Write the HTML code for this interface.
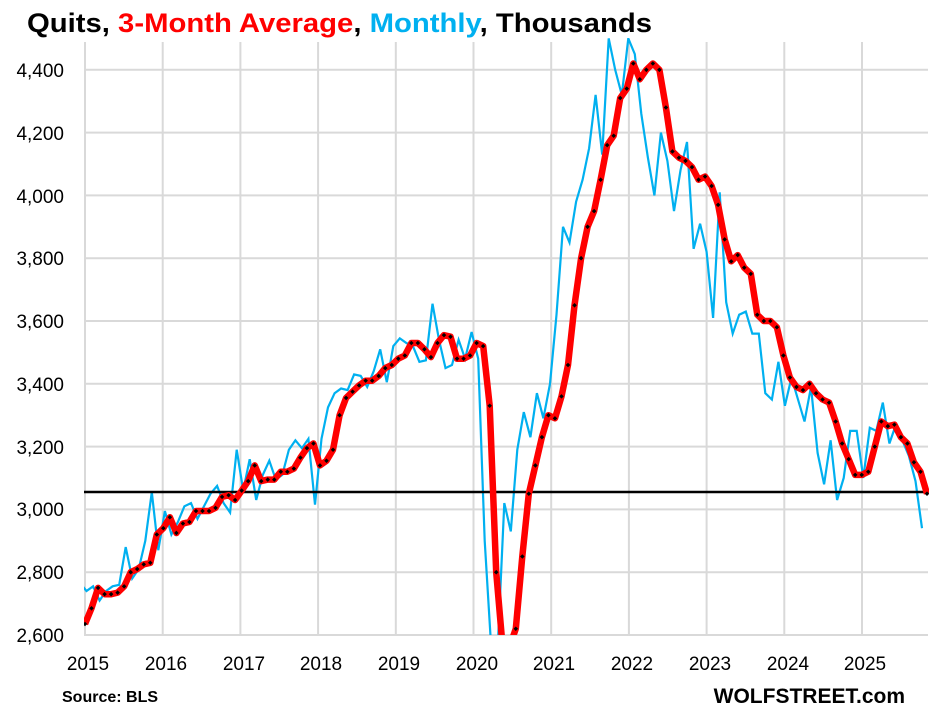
<!DOCTYPE html>
<html style="overflow:hidden;height:714px"><head><meta charset="utf-8"><style>
body{margin:0;background:#fff;width:933px;height:714px;overflow:hidden;font-family:"Liberation Sans",sans-serif}
svg{position:absolute;left:0;top:0;display:block}
</style></head><body>
<svg id="s" width="933" height="714" viewBox="0 0 933 714">
<defs><clipPath id="c"><rect x="84" y="38" width="845" height="597"/></clipPath></defs>
<text x="27" y="32" font-size="27" font-weight="bold" textLength="625" lengthAdjust="spacingAndGlyphs" font-family="Liberation Sans, sans-serif"><tspan fill="#000">Quits, </tspan><tspan fill="#ff0000">3-Month Average</tspan><tspan fill="#000">, </tspan><tspan fill="#00b0f0">Monthly</tspan><tspan fill="#000">, Thousands</tspan></text>
<g id="grid" stroke="#d9d9d9" stroke-width="2"></g>
<g font-size="19" fill="#000" text-anchor="end">
<text x="64" y="77">4,400</text><text x="64" y="140">4,200</text><text x="64" y="203">4,000</text><text x="64" y="265">3,800</text><text x="64" y="328">3,600</text><text x="64" y="391">3,400</text><text x="64" y="454">3,200</text><text x="64" y="516">3,000</text><text x="64" y="579">2,800</text><text x="64" y="642">2,600</text>
</g>
<g font-size="19" fill="#000" text-anchor="middle">
<text x="88" y="670">2015</text><text x="166" y="670">2016</text><text x="244" y="670">2017</text><text x="321" y="670">2018</text><text x="399" y="670">2019</text><text x="477" y="670">2020</text><text x="554" y="670">2021</text><text x="632" y="670">2022</text><text x="710" y="670">2023</text><text x="788" y="670">2024</text><text x="865" y="670">2025</text>
</g>
<text x="62" y="702" font-size="16" font-weight="bold">Source: BLS</text>
<text x="905" y="703" font-size="21" font-weight="bold" text-anchor="end">WOLFSTREET.com</text>
<g id="data" clip-path="url(#c)"></g>
</svg>
<script>
var ma=[2635,2685,2750,2730,2730,2735,2755,2800,2810,2825,2830,2920,
2940,2975,2925,2955,2960,2995,2995,2995,3005,3040,3045,3030,
3060,3090,3140,3090,3095,3095,3120,3120,3130,3165,3195,3210,
3140,3155,3190,3300,3355,3375,3395,3410,3410,3425,3450,3460,
3480,3490,3530,3530,3510,3485,3530,3555,3550,3480,3480,3490,
3530,3520,3330,2800,2400,2300,2620,2850,3050,3140,3230,3300,
3290,3360,3460,3650,3800,3900,3950,4050,4160,4190,4310,4340,
4420,4370,4400,4420,4400,4280,4140,4120,4110,4090,4050,4060,
4030,3970,3860,3790,3810,3770,3750,3620,3600,3600,3580,3490,
3420,3390,3380,3400,3370,3350,3340,3280,3210,3160,3110,3110,
3120,3200,3280,3265,3270,3230,3210,3150,3120,3050];
var mo=[2765,2740,2755,2710,2740,2755,2760,2880,2780,2810,2900,3055,
2870,2995,2920,2960,3010,3020,2970,3010,3050,3075,3020,2990,
3190,3060,3160,3030,3110,3155,3095,3110,3190,3220,3195,3225,
3015,3225,3325,3370,3385,3380,3430,3425,3390,3440,3510,3405,
3520,3545,3530,3520,3470,3475,3655,3540,3450,3460,3540,3480,
3565,3480,2900,2000,2200,3020,2930,3190,3310,3230,3370,3290,
3400,3620,3900,3850,3980,4050,4150,4320,4130,4500,4400,4320,
4500,4450,4260,4120,4000,4200,4110,3950,4080,4170,3830,3910,
3820,3610,4010,3660,3560,3620,3630,3560,3560,3370,3350,3470,
3330,3420,3350,3280,3390,3180,3080,3220,3030,3100,3250,3250,
3100,3260,3250,3340,3210,3270,3220,3170,3090,2940];
var step=(927-85)/(ma.length-1);
function X(i){return 85+i*step}
function Y(v){v=Math.max(2560,Math.min(4510,v));return 635-(v-2600)*62.8/200}
var g='';
for(var k=0;k<10;k++){var y=Y(2600+200*k);g+='<line x1="84" x2="928" y1="'+y+'" y2="'+y+'"/>';}
for(var k=0;k<11;k++){var x=85+k*77.7;g+='<line x1="'+x+'" x2="'+x+'" y1="42" y2="636"/>';}
document.getElementById('grid').innerHTML=g;
function pts(a,dx){return a.map(function(v,i){return (X(i)+dx).toFixed(1)+','+Y(v).toFixed(1)}).join(' ')}
var d='<polyline points="'+pts(mo,-5)+'" fill="none" stroke="#00b0f0" stroke-width="2.2"/>';
d+='<line x1="84" x2="928" y1="492" y2="492" stroke="#000" stroke-width="2.5"/>';
d+='<polyline points="'+pts(ma,0)+'" fill="none" stroke="#ff0000" stroke-width="6.5" stroke-linejoin="round"/>';
ma.forEach(function(v,i){if(v<2600)return;var x=X(i),y=Y(v);d+='<rect x="'+(x-1.6)+'" y="'+(y-1.6)+'" width="3.2" height="3.2" fill="#000" transform="rotate(45 '+x+' '+y+')"/>';});
document.getElementById('data').innerHTML=d;
</script>
</body></html>
